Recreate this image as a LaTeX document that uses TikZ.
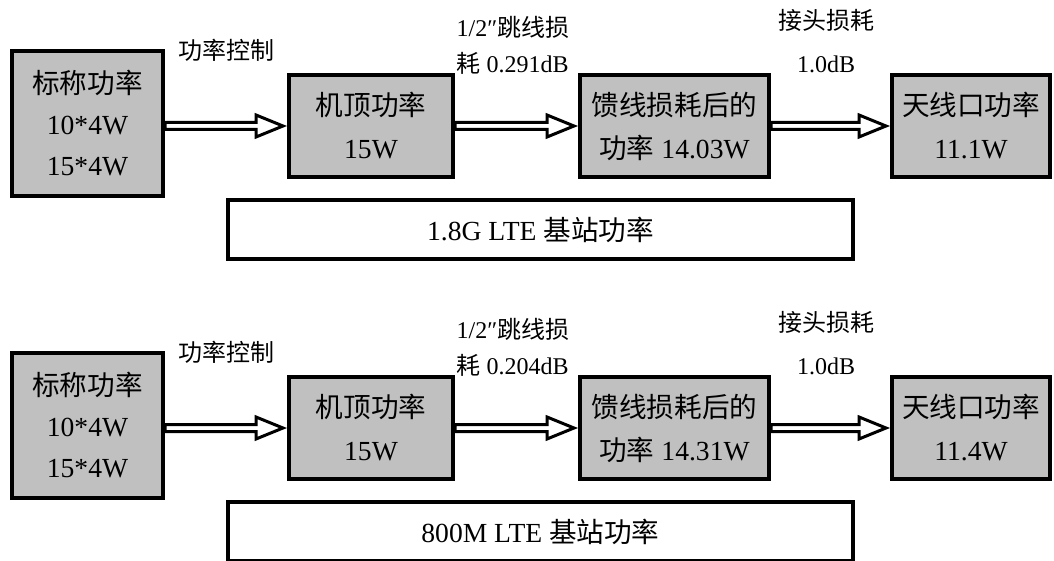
\documentclass[tikz,border=0pt]{standalone}
\usepackage{fontspec}
\setmainfont{Liberation Serif}
\newfontfamily\cjk{Noto Sans CJK SC}
\usetikzlibrary{calc}
\definecolor{boxGray}{RGB}{192,192,192}
\newcommand\zh[1]{{\cjk #1}}
\newcommand\boxfont{\fontsize{13.8pt}{21.5pt}\selectfont}
\newcommand\notefont{\fontsize{12pt}{18pt}\selectfont}
\tikzset{
  powbox/.style={draw, line width=2pt, fill=boxGray, inner sep=0pt,
    align=center, minimum height=51pt, font=\boxfont},
  tagbox/.style={draw, line width=2pt, fill=white, inner sep=0pt,
    minimum width=312.5pt, minimum height=29.5pt, font=\boxfont},
  fatarrow/.style={draw, line width=1.5pt, fill=white, line join=miter,
    to path={($(\tikztostart)+(0,-3.5)$) -- ($(\tikztotarget)+(-31,-3.5)$)
      -- ($(\tikztotarget)+(-31,-11)$) -- ($(\tikztotarget)+(-4,0)$)
      -- ($(\tikztotarget)+(-31,11)$) -- ($(\tikztotarget)+(-31,3.5)$)
      -- ($(\tikztostart)+(0,3.5)$) -- cycle}}
}
\begin{document}
\begin{tikzpicture}[x=0.5pt, y=-0.5pt]
		\useasboundingbox (0,0) rectangle (1054,561);

		% 1.8G: boxes
		\begin{scope}[every node/.style={powbox}]
			\node (nom) at (87.5,123.5) [minimum width=75.5pt, minimum height=72.5pt,
				font=\fontsize{13.8pt}{20.5pt}\selectfont] {\zh{标称功率}\\10*4W\\15*4W};
			\node (top) at (371,126) [minimum width=82pt] {\zh{机顶功率}\\15W};
			\node (feed) at (674.5,126) [minimum width=94.5pt] {\zh{馈线损耗后的}\\\zh{功率} 14.03W};
			\node (ant) at (971,126) [minimum width=79pt] {\zh{天线口功率}\\11.1W};
		\end{scope}
		\node (tag) at (540.5,229.5) [tagbox] {1.8G LTE \zh{基站功率}};

		% 1.8G: notes
		\begin{scope}[every node/.style={font=\notefont, inner sep=0pt}]
			\node (ctl) at (226,50) {\zh{功率控制}};
			\node (jmp) at (513,45) [align=left] {1/2″\zh{跳线损}\\\zh{耗} 0.291dB};
			\node (con) at (826,41.5) [align=center] {\zh{接头损耗}\\[3.5pt]1.0dB};
		\end{scope}

		% 1.8G: arrows
		\draw[fatarrow] (nom.east |- top.west) to (top.west);
		\draw[fatarrow] (top.east) to (feed.west);
		\draw[fatarrow] (feed.east) to (ant.west);

		% 800M: boxes
		\begin{scope}[every node/.style={powbox}]
			\node (nom2) at (87.5,425.5) [minimum width=75.5pt, minimum height=72.5pt,
				font=\fontsize{13.8pt}{20.5pt}\selectfont] {\zh{标称功率}\\10*4W\\15*4W};
			\node (top2) at (371,428) [minimum width=82pt] {\zh{机顶功率}\\15W};
			\node (feed2) at (674.5,428) [minimum width=94.5pt] {\zh{馈线损耗后的}\\\zh{功率} 14.31W};
			\node (ant2) at (971,428) [minimum width=79pt] {\zh{天线口功率}\\11.4W};
		\end{scope}
		\node (tag2) at (540.5,531.5) [tagbox] {800M LTE \zh{基站功率}};

		% 800M: notes
		\begin{scope}[every node/.style={font=\notefont, inner sep=0pt}]
			\node (ctl2) at (226,352) {\zh{功率控制}};
			\node (jmp2) at (513,347) [align=left] {1/2″\zh{跳线损}\\\zh{耗} 0.204dB};
			\node (con2) at (826,343.5) [align=center] {\zh{接头损耗}\\[3.5pt]1.0dB};
		\end{scope}

		% 800M: arrows
		\draw[fatarrow] (nom2.east |- top2.west) to (top2.west);
		\draw[fatarrow] (top2.east) to (feed2.west);
		\draw[fatarrow] (feed2.east) to (ant2.west);
\end{tikzpicture}
\end{document}
